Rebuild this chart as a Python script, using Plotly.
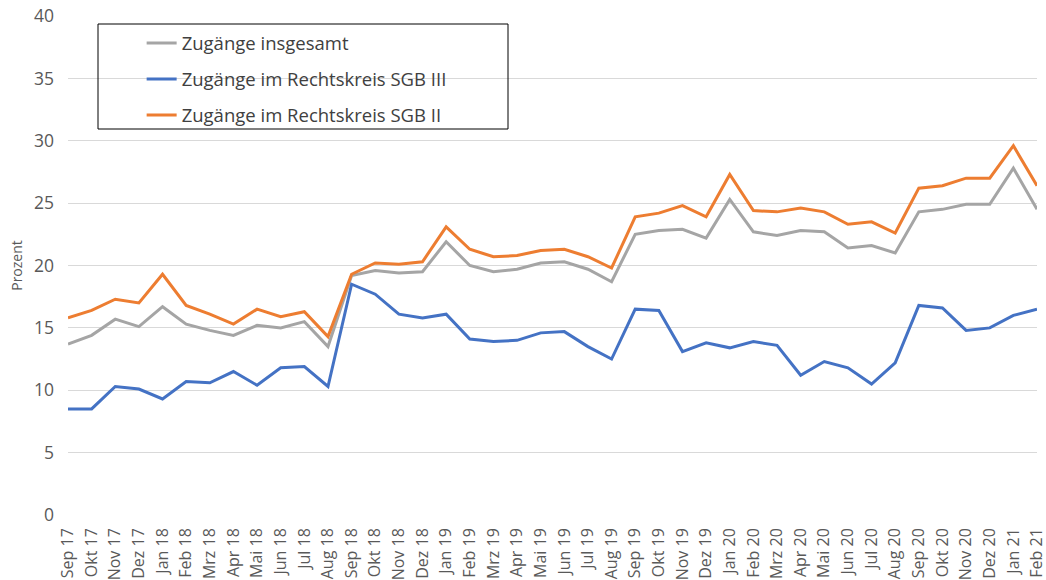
import plotly.graph_objects as go

months = ["Sep 17","Okt 17","Nov 17","Dez 17","Jan 18","Feb 18","Mrz 18","Apr 18","Mai 18","Jun 18","Jul 18","Aug 18",
          "Sep 18","Okt 18","Nov 18","Dez 18","Jan 19","Feb 19","Mrz 19","Apr 19","Mai 19","Jun 19","Jul 19","Aug 19",
          "Sep 19","Okt 19","Nov 19","Dez 19","Jan 20","Feb 20","Mrz 20","Apr 20","Mai 20","Jun 20","Jul 20","Aug 20",
          "Sep 20","Okt 20","Nov 20","Dez 20","Jan 21","Feb 21"]

insgesamt = [13.7,14.4,15.7,15.1,16.7,15.3,14.8,14.4,15.2,15.0,15.5,13.5,
             19.2,19.6,19.4,19.5,21.9,20.0,19.5,19.7,20.2,20.3,19.7,18.7,
             22.5,22.8,22.9,22.2,25.3,22.7,22.4,22.8,22.7,21.4,21.6,21.0,
             24.3,24.5,24.9,24.9,27.8,24.5]

sgb3 = [8.5,8.5,10.3,10.1,9.3,10.7,10.6,11.5,10.4,11.8,11.9,10.3,
        18.5,17.7,16.1,15.8,16.1,14.1,13.9,14.0,14.6,14.7,13.5,12.5,
        16.5,16.4,13.1,13.8,13.4,13.9,13.6,11.2,12.3,11.8,10.5,12.2,
        16.8,16.6,14.8,15.0,16.0,16.5]

sgb2 = [15.8,16.4,17.3,17.0,19.3,16.8,16.1,15.3,16.5,15.9,16.3,14.3,
        19.3,20.2,20.1,20.3,23.1,21.3,20.7,20.8,21.2,21.3,20.7,19.8,
        23.9,24.2,24.8,23.9,27.3,24.4,24.3,24.6,24.3,23.3,23.5,22.6,
        26.2,26.4,27.0,27.0,29.6,26.4]

series_names = ["Zugänge insgesamt", "Zugänge im Rechtskreis SGB III", "Zugänge im Rechtskreis SGB II"]
colors = ["#A5A5A5", "#4472C4", "#ED7D31"]

font_family = "'Open Sans', sans-serif"
fig = go.Figure()
for i, (name, vals) in enumerate(zip(series_names, [insgesamt, sgb3, sgb2])):
    fig.add_trace(go.Scatter(x=months, y=vals, mode="lines", name=name,
                             legendgroup=f"g{i}",
                             line=dict(color=colors[i], width=3)))

fig.update_layout(
    width=1046, height=580,
    margin=dict(l=68, r=9, t=16, b=65),
    paper_bgcolor="white", plot_bgcolor="white",
    font=dict(family=font_family, color="#595959"),
    showlegend=True,
    legend=dict(x=0.076, y=0.983, xanchor="left", yanchor="top",
                bgcolor="rgba(0,0,0,0)", borderwidth=0,
                font=dict(size=18.5, color="#404040"),
                tracegroupgap=9, itemwidth=30),
    xaxis=dict(type="category", range=[0, 41], tickangle=-90,
               showgrid=False, showline=False, zeroline=False,
               tickfont=dict(size=16, color="#595959"),
               ticks="", ticklabelstandoff=9, automargin=False),
    yaxis=dict(range=[0, 40], dtick=5, showgrid=True, gridcolor="#D9D9D9", gridwidth=1,
               zeroline=False, showline=False, ticks="", automargin=False,
               tickfont=dict(size=17.5, color="#595959"),
               ticklabelstandoff=13,
               title=dict(text="Prozent", font=dict(size=14, color="#595959"), standoff=8)),
    shapes=[dict(type="rect", xref="paper", yref="paper",
                 x0=(98-68)/969, x1=(508-68)/969, y0=(515-129)/499, y1=(515-24)/499,
                 line=dict(color="black", width=1), fillcolor="rgba(0,0,0,0)")],
)

fig.write_html("out.html", config={"displayModeBar": False},
               post_script="document.body.style.margin='0';document.body.style.overflow='hidden';")
